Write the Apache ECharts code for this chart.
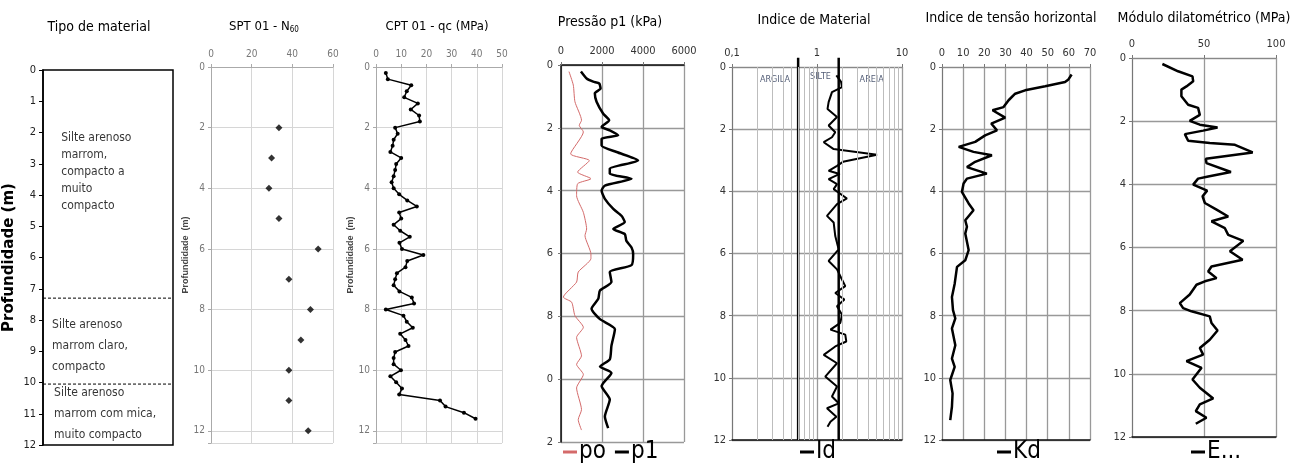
<!DOCTYPE html>
<html>
<head>
<meta charset="utf-8">
<script src="https://cdn.jsdelivr.net/npm/echarts@6/dist/echarts.min.js"></script>
<style>
  html, body { margin: 0; padding: 0; background: #fff; }
  #chart { width: 1295px; height: 465px; }
</style>
</head>
<body>
<div id="chart"></div>
<script>
// perfil de sondagem
const camadaBase = [7.3, 10.05];
const camadaTopoTexto = [1.9, 7.82, 10.0];
const camadaDescricao = [
  "Silte arenoso\nmarrom,\ncompacto a\nmuito\ncompacto",
  "Silte arenoso\nmarrom claro,\ncompacto",
  "Silte arenoso\nmarrom com mica,\nmuito compacto"
];

const sptDepth = [2, 3, 4, 5, 6, 7, 8, 9, 10, 11, 12];
const sptN60 = [33.4, 29.8, 28.5, 33.4, 52.7, 38.3, 48.9, 44.2, 38.3, 38.3, 47.8];

const cptDepth = [0.2, 0.4, 0.6, 0.8, 1.0, 1.2, 1.4, 1.6, 1.8, 2.0, 2.2, 2.4, 2.6, 2.8, 3.0,
  3.2, 3.4, 3.6, 3.8, 4.0, 4.2, 4.4, 4.6, 4.8, 5.0, 5.2, 5.4, 5.6, 5.8, 6.0, 6.2, 6.4, 6.6,
  6.8, 7.0, 7.2, 7.4, 7.6, 7.8, 8.0, 8.2, 8.4, 8.6, 8.8, 9.0, 9.2, 9.4, 9.6, 9.8, 10.0,
  10.2, 10.4, 10.6, 10.8, 11.0, 11.2, 11.4, 11.6];
const cptQc = [3.9, 4.7, 14.0, 12.2, 11.2, 16.6, 13.8, 17.1, 17.4, 7.6, 8.6, 7.0, 6.6, 5.7, 10.0,
  8.0, 7.6, 7.0, 6.2, 7.0, 9.2, 12.4, 16.2, 9.2, 10.0, 7.0, 9.6, 13.4, 9.3, 10.3, 18.8, 12.4, 11.7,
  8.3, 7.6, 7.0, 9.3, 14.2, 15.1, 3.9, 10.9, 12.2, 14.6, 9.6, 11.7, 12.9, 7.6, 7.0, 7.0, 9.9,
  5.7, 8.0, 10.3, 9.2, 25.4, 27.6, 34.9, 39.5];

const p1Depth = [0.21, 0.43, 0.53, 0.59, 0.75, 0.9, 1.17, 1.55, 1.76, 1.97, 2.08, 2.24, 2.35, 2.56,
  2.77, 3.04, 3.3, 3.46, 3.62, 3.84, 4.0, 4.26, 4.58, 4.8, 5.0, 5.22, 5.38, 5.6, 5.81, 6.02, 6.37,
  6.59, 6.91, 7.18, 7.44, 7.76, 8.09, 8.41, 8.94, 9.37, 9.6, 9.8, 10.22, 10.65, 11.19, 11.56];
const p1Val = [973, 1250, 1570, 1865, 1930, 1650, 1735, 2060, 2350, 1980, 2380, 2790, 1980, 1980,
  2710, 3760, 2380, 2380, 3440, 2140, 1980, 2140, 2550, 2950, 3110, 2550, 3110, 3190, 3440, 3520, 3440,
  2380, 2460, 1900, 1820, 1490, 1900, 2630, 2460, 2380, 1900, 2460, 1980, 2380, 2140, 2300];
const p0Depth = [0.21, 0.64, 1.17, 1.76, 1.92, 2.13, 2.83, 3.04, 3.41, 3.62, 3.78, 4.16, 4.69, 5.22,
  5.43, 6.02, 6.16, 6.59, 6.91, 7.39, 7.55, 7.98, 8.35, 8.67, 9.26, 9.53, 9.85, 10.28, 10.97, 11.29, 11.62];
const p0Val = [390, 600, 680, 1000, 890, 1090, 470, 1380, 810, 1460, 810, 760, 1090, 1250,
  1170, 1460, 1460, 840, 760, 115, 520, 680, 1090, 760, 1000, 760, 1090, 760, 1000, 840, 1000];

const idLimites = [0.6, 1.8];
const idMenores = [0.2, 0.3, 0.4, 0.5, 0.6, 0.7, 0.8, 0.9, 2, 3, 4, 5, 6, 7, 8, 9];
const idZonas = ["ARGILA", "SILTE", "AREIA"];
const idZonaPos = [[0.32, 0.42], [1.1, 0.32], [4.4, 0.42]];
const idDepth = [0.27, 0.48, 0.65, 0.81, 1.13, 1.35, 1.61, 1.88, 2.1, 2.26, 2.42, 2.64, 2.82, 3.05,
  3.18, 3.34, 3.44, 3.61, 3.77, 3.93, 4.23, 4.41, 4.79, 5.0, 5.44, 5.87, 6.24, 6.51, 6.78, 7.05, 7.27,
  7.48, 7.7, 7.97, 8.23, 8.45, 8.61, 8.83, 8.99, 9.26, 9.53, 9.96, 10.28, 10.6, 10.82, 10.98, 11.25,
  11.41, 11.57];
const idVal = [1.69, 1.92, 1.97, 1.5, 1.37, 1.33, 1.72, 1.37, 1.64, 1.5, 1.2, 1.57, 5.08, 2.02,
  1.72, 1.37, 1.85, 1.37, 1.72, 1.57, 2.25, 1.72, 1.31, 1.57, 1.64, 1.8, 1.37, 1.72, 1.92, 2.15, 1.64,
  2.1, 1.72, 1.97, 1.88, 1.44, 2.15, 2.21, 1.64, 1.2, 1.72, 1.25, 1.72, 1.5, 1.8, 1.31, 1.69,
  1.44, 1.33];

const kdDepth = [0.24, 0.4, 0.48, 0.62, 0.75, 0.86, 1.07, 1.29, 1.39, 1.63, 1.82, 2.04, 2.2, 2.41,
  2.57, 2.73, 2.84, 3.05, 3.22, 3.43, 3.59, 3.75, 4.02, 4.39, 4.61, 4.93, 5.14, 5.36, 5.89, 6.22,
  6.43, 6.97, 7.4, 7.82, 8.09, 8.41, 8.95, 9.38, 9.65, 10.07, 10.5, 10.93, 11.36];
const kdVal = [61.3, 59.8, 58.2, 48.8, 39.3, 34.6, 31.5, 29.1, 23.9, 29.9, 23.3, 26, 20.4, 15.7,
  7.9, 14.9, 23.6, 15.7, 11.8, 21.2, 11.8, 10.2, 9.4, 12.6, 14.9, 11, 11.8, 11, 12.6, 11,
  7.1, 6, 4.7, 5.2, 6.3, 4.7, 6.3, 4.7, 6, 3.9, 5, 4.7, 3.9];

const eDepth = [0.19, 0.42, 0.58, 0.74, 0.9, 1.0, 1.21, 1.48, 1.58, 1.8, 1.99, 2.11, 2.2, 2.3, 2.41,
  2.62, 2.69, 2.75, 2.99, 3.19, 3.33, 3.61, 3.75, 3.82, 4.01, 4.2, 4.38, 4.59, 4.8, 5.02, 5.17, 5.39,
  5.6, 5.79, 6.12, 6.39, 6.6, 6.76, 6.97, 7.07, 7.18, 7.49, 7.76, 7.92, 8.02, 8.18, 8.39, 8.63, 8.92,
  9.18, 9.39, 9.6, 9.81, 10.18, 10.44, 10.78, 10.97, 11.18, 11.39, 11.58];
const eVal = [21.1, 32, 42, 42.5, 37.8, 34.3, 34.3, 39, 45.9, 47.1, 40.1, 47.1, 59.4, 49.4, 36.7,
  39, 54, 71.5, 83.8, 51.3, 51.7, 68.7, 52.9, 45.9, 42.5, 52.2, 49, 50.6, 58.7, 66.8, 55.2, 64.5,
  66.8, 77.3, 68, 76.8, 55.2, 52.9, 58.7, 50.6, 44.8, 40.1, 33.2, 35.5, 41.3, 54, 55.2, 59.4, 54,
  47.1, 49.4, 37.8, 48.3, 42, 47.1, 56.4, 47.1, 44.3, 51.7, 44.3];

const FONT = "'Liberation Sans Narrow', 'DejaVu Sans Condensed', 'Liberation Sans', sans-serif";
const zip = (xs, ys) => xs.map((x, i) => [x, ys[i]]);

const chart = echarts.init(document.getElementById("chart"));

// eixo de profundidade
function depthAxis(gridIndex, max, light, extra) {
  return Object.assign({
    gridIndex,
    type: "value",
    inverse: true,
    min: 0,
    max: max,
    interval: 2,
    axisLine: { show: true, lineStyle: { color: light ? "#aaa" : "#777", width: 1 } },
    axisTick: { show: true, length: 3, lineStyle: { color: light ? "#aaa" : "#777" } },
    axisLabel: {
      color: light ? "#777" : "#333",
      fontSize: light ? 10 : 11,
      fontFamily: FONT,
      margin: 6,
      formatter: v => (v % 2 === 0 ? String(v) : "")
    },
    splitLine: { show: true, lineStyle: { color: light ? "#d6d6d6" : "#999", width: light ? 1 : 1.3 } }
  }, extra || {});
}

function topAxis(gridIndex, min, max, interval, light, extra) {
  return Object.assign({
    gridIndex,
    type: "value",
    position: "top",
    min, max, interval,
    axisLine: { show: true, lineStyle: { color: light ? "#aaa" : "#888" } },
    axisTick: { show: true, length: 3, lineStyle: { color: light ? "#aaa" : "#777" } },
    axisLabel: { color: light ? "#777" : "#333", fontSize: light ? 10 : 11, fontFamily: FONT, margin: 8,
      formatter: v => String(v) },
    splitLine: { show: true, lineStyle: { color: light ? "#d6d6d6" : "#999", width: light ? 1 : 1.3 } }
  }, extra || {});
}

function bottomLine(gridIndex, type, min, max) {
  return {
    gridIndex, type, min, max, position: "bottom",
    axisLine: { show: true, lineStyle: { color: "#111", width: 1.5 } },
    axisTick: { show: false }, axisLabel: { show: false }, splitLine: { show: false }
  };
}

const yName = {
  name: "Profundidade  (m)",
  nameLocation: "middle",
  nameGap: 19,
  nameTextStyle: { fontSize: 9, fontWeight: "bold", color: "#444", fontFamily: "'Liberation Sans', sans-serif" }
};

const option = {
  animation: false,
  backgroundColor: "#fff",
  grid: [
    { left: 43, top: 70, width: 130, height: 375, show: true, borderColor: "#000", borderWidth: 1.5 },
    { left: 211, top: 67, width: 122, height: 376 },
    { left: 376, top: 67, width: 126, height: 376 },
    { left: 561, top: 65, width: 123, height: 377 },
    { left: 732, top: 67, width: 170, height: 373 },
    { left: 942, top: 67, width: 148, height: 373 },
    { left: 1132, top: 58, width: 144, height: 379 }
  ],
  xAxis: [
    { gridIndex: 0, type: "value", min: 0, max: 1, show: false },
    topAxis(1, 0, 60, 20, true),
    topAxis(2, 0, 50, 10, true),
    topAxis(3, 0, 6000, 2000, false),
    {
      gridIndex: 4, type: "log", logBase: 10, min: 0.1, max: 10, position: "top",
      axisLine: { show: true, lineStyle: { color: "#888" } },
      axisTick: { show: true, length: 3, lineStyle: { color: "#777" } },
      axisLabel: { color: "#333", fontSize: 11, fontFamily: FONT, margin: 8,
        formatter: v => String(v).replace(".", ",") },
      splitLine: { show: true, lineStyle: { color: "#999", width: 1.3 } }
    },
    bottomLine(4, "log", 0.1, 10),
    topAxis(5, 0, 70, 10, false),
    bottomLine(5, "value", 0, 70),
    topAxis(6, 0, 100, 50, false),
    bottomLine(6, "value", 0, 100),
    bottomLine(3, "value", 0, 6000)
  ],
  yAxis: [
    {
      gridIndex: 0, type: "value", inverse: true, min: 0, max: 12, interval: 1,
      axisLine: { show: true, lineStyle: { color: "#000", width: 1.5 } },
      axisTick: { show: true, length: 4, lineStyle: { color: "#000" } },
      axisLabel: { color: "#222", fontSize: 11, fontFamily: FONT, margin: 7 },
      splitLine: { show: false },
      name: "Profundidade (m)", nameLocation: "middle", nameGap: 26,
      nameTextStyle: { fontSize: 15, fontWeight: "bold", color: "#000", fontFamily: "'DejaVu Sans', sans-serif" }
    },
    depthAxis(1, 12.4, true, yName),
    depthAxis(2, 12.4, true, yName),
    depthAxis(3, 12, false, { axisLabel: { color: "#333", fontSize: 11, fontFamily: FONT, margin: 8, formatter: v => String(v % 10) } }),
    depthAxis(4, 12, false),
    depthAxis(5, 12, false),
    depthAxis(6, 12, false),
    {
      gridIndex: 3, type: "value", inverse: true, min: 0, max: 12, position: "right",
      axisLine: { show: true, lineStyle: { color: "#111", width: 1.5 } },
      axisTick: { show: false }, axisLabel: { show: false }, splitLine: { show: false }
    }
  ],
  legend: [
    { data: ["po", "p1"], left: 563, top: 440 },
    { data: ["Id"], left: 800, top: 440 },
    { data: ["Kd"], left: 997, top: 440 },
    { data: ["E..."], left: 1191, top: 440 }
  ].map(l => Object.assign({
    icon: "rect", itemWidth: 14, itemHeight: 3, itemGap: 9, padding: 0, selectedMode: false,
    textStyle: { fontSize: 24, color: "#000", fontFamily: FONT, padding: [0, 0, 0, -3] }
  }, l)),
  series: [
    // camadas
    ...camadaBase.map(d => ({
      type: "line", xAxisIndex: 0, yAxisIndex: 0, symbol: "none", silent: true,
      data: [[0, d], [1, d]],
      lineStyle: { color: "#000", width: 1, type: [3, 2] }
    })),
    {
      type: "scatter", xAxisIndex: 0, yAxisIndex: 0, symbolSize: 0, silent: true,
      data: [
        { value: [0.14, camadaTopoTexto[0]], label: { lineHeight: 17 } },
        { value: [0.07, camadaTopoTexto[1]], label: { lineHeight: 21 } },
        { value: [0.085, camadaTopoTexto[2]], label: { lineHeight: 21 } }
      ],
      label: {
        show: true, position: [0, 0], align: "left", verticalAlign: "top",
        color: "#000", fontSize: 12, fontFamily: FONT,
        formatter: p => camadaDescricao[p.dataIndex]
      }
    },
    // SPT
    {
      name: "N60", type: "scatter", xAxisIndex: 1, yAxisIndex: 1,
      symbol: "diamond", symbolSize: 7, itemStyle: { color: "#000" },
      data: zip(sptN60, sptDepth)
    },
    // CPT
    {
      name: "qc", type: "line", xAxisIndex: 2, yAxisIndex: 2,
      symbol: "circle", symbolSize: 4, itemStyle: { color: "#000" },
      lineStyle: { color: "#000", width: 1.5 },
      data: zip(cptQc, cptDepth)
    },
    // pressoes
    {
      name: "po", type: "line", xAxisIndex: 3, yAxisIndex: 3, symbol: "none", smooth: 0.2,
      itemStyle: { color: "#d46a6a" }, lineStyle: { color: "#d46a6a", width: 1 },
      data: zip(p0Val, p0Depth)
    },
    {
      name: "p1", type: "line", xAxisIndex: 3, yAxisIndex: 3, symbol: "none", smooth: 0.2,
      itemStyle: { color: "#000" }, lineStyle: { color: "#000", width: 2.5 },
      data: zip(p1Val, p1Depth)
    },
    // Id - limites e grade secundaria
    ...idLimites.map((v, i) => ({
      type: "line", xAxisIndex: 4, yAxisIndex: 4, symbol: "none", silent: true, clip: false, z: 1,
      lineStyle: { color: "#000", width: 2.5 },
      data: [[v, -0.3], [v, 12]],
      markLine: i === 0 ? {
        silent: true, symbol: "none", label: { show: false },
        lineStyle: { color: "#bdbdbd", width: 1, type: "solid" },
        data: idMenores.map(m => ({ xAxis: m }))
      } : undefined
    })),
    {
      type: "scatter", xAxisIndex: 4, yAxisIndex: 4, symbolSize: 0, silent: true,
      data: idZonaPos,
      label: {
        show: true, position: "inside", color: "#1f2d4d", fontSize: 9, fontFamily: FONT,
        formatter: p => idZonas[p.dataIndex]
      }
    },
    {
      name: "Id", type: "line", xAxisIndex: 4, yAxisIndex: 4, symbol: "none", z: 3,
      itemStyle: { color: "#000" }, lineStyle: { color: "#000", width: 2 },
      data: zip(idVal, idDepth)
    },
    // Kd
    {
      name: "Kd", type: "line", xAxisIndex: 6, yAxisIndex: 5, symbol: "none",
      itemStyle: { color: "#000" }, lineStyle: { color: "#000", width: 2.5 },
      data: zip(kdVal, kdDepth)
    },
    // E
    {
      name: "E...", type: "line", xAxisIndex: 8, yAxisIndex: 6, symbol: "none",
      itemStyle: { color: "#000" }, lineStyle: { color: "#000", width: 2.5 },
      data: zip(eVal, eDepth)
    }
  ],
  graphic: [
    ["Tipo de material", 99, 27, 14],
    ["CPT 01 - qc (MPa)", 437, 27, 13],
    ["Pressão p1 (kPa)", 610, 22, 14],
    ["Indice de Material", 814, 20, 14],
    ["Indice de tensão horizontal", 1011, 18, 14],
    ["Módulo dilatométrico (MPa)", 1204, 18, 14]
  ].map(t => ({
    type: "text", x: t[1], y: t[2], silent: true,
    style: { text: t[0], fill: "#000", font: t[3] + "px " + FONT, textAlign: "center", textVerticalAlign: "middle" }
  })).concat([{
    type: "text", x: 264, y: 27, silent: true,
    style: {
      text: "SPT 01 - N{s|60}", fill: "#000", font: "13px " + FONT, textAlign: "center", textVerticalAlign: "middle",
      rich: { s: { fontSize: 8, fontFamily: FONT, padding: [5, 0, 0, 0] } }
    }
  }])
};

chart.setOption(option);
</script>
</body>
</html>
